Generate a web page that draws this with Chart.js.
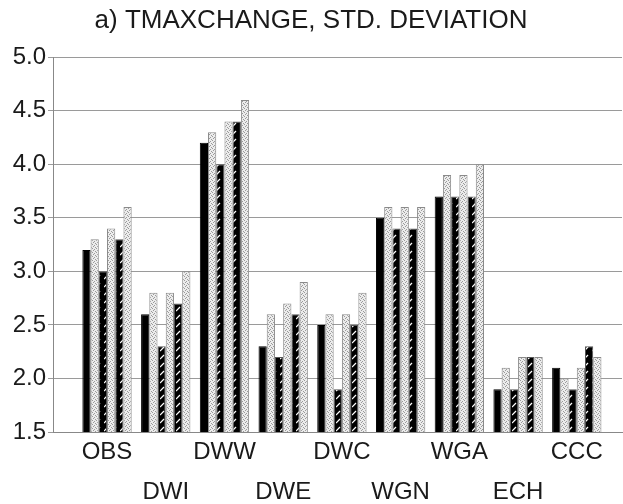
<!DOCTYPE html>
<html>
<head>
<meta charset="utf-8">
<script src="https://cdn.jsdelivr.net/npm/chart.js@4.4.0/dist/chart.umd.min.js"></script>
<style>
html, body { margin: 0; padding: 0; background: #fff; }
#wrap { position: relative; width: 623px; height: 504px; }
</style>
</head>
<body>
<div id="wrap"><canvas id="tmaxChart"></canvas></div>
<script>
// values, one array per bar in each group
const categories = ['OBS', 'DWI', 'DWW', 'DWE', 'DWC', 'WGN', 'WGA', 'ECH', 'CCC'];
const bar1 = [3.2, 2.6, 4.2, 2.3, 2.5, 3.5, 3.7, 1.9, 2.1];
const bar2 = [3.3, 2.8, 4.3, 2.6, 2.6, 3.6, 3.9, 2.1, 2.0];
const bar3 = [3.0, 2.3, 4.0, 2.2, 1.9, 3.4, 3.7, 1.9, 1.9];
const bar4 = [3.4, 2.8, 4.4, 2.7, 2.6, 3.6, 3.9, 2.2, 2.1];
const bar5 = [3.3, 2.7, 4.4, 2.6, 2.5, 3.4, 3.7, 2.2, 2.3];
const bar6 = [3.6, 3.0, 4.6, 2.9, 2.8, 3.6, 4.0, 2.2, 2.2];
const yTicks = [1.5, 2.0, 2.5, 3.0, 3.5, 4.0, 4.5, 5.0];

document.addEventListener('DOMContentLoaded', function() {
const canvas = document.getElementById('tmaxChart');
const ctx = canvas.getContext('2d');

// stippled grey fill
function makeStipple() {
    const c = document.createElement('canvas');
    c.width = 4; c.height = 4;
    const g = c.getContext('2d');
    g.fillStyle = '#ececec';
    g.fillRect(0, 0, 4, 4);
    g.fillStyle = '#9a9a9a';
    g.fillRect(0, 0, 1, 1);
    g.fillRect(2, 1, 1, 1);
    g.fillRect(1, 2, 1, 1);
    g.fillRect(3, 3, 1, 1);
    return ctx.createPattern(c, 'repeat');
}

// black fill with white diagonal strokes
function makeHatch() {
    const c = document.createElement('canvas');
    c.width = 8; c.height = 8;
    const g = c.getContext('2d');
    g.fillStyle = '#000';
    g.fillRect(0, 0, 8, 8);
    g.strokeStyle = '#fff';
    g.lineWidth = 1.2;
    g.beginPath();
    g.moveTo(0, 7); g.lineTo(4, 3);
    g.stroke();
    return ctx.createPattern(c, 'repeat');
}

const stipple = makeStipple();
const hatch = makeHatch();

const allBars = [bar1, bar2, bar3, bar4, bar5, bar6];
const fills = ['#000', stipple, hatch, stipple, hatch, stipple];
const edges = ['#000', '#8a8a8a', '#555', '#8a8a8a', '#555', '#8a8a8a'];

const datasets = allBars.map(function(vals, k) {
    return {
        label: 'bar ' + (k + 1),
        data: vals.map(function(v, i) { return {x: i, y: v}; }),
        backgroundColor: fills[k],
        borderColor: edges[k],
        borderWidth: 1,
        categoryPercentage: 0.84,
        barPercentage: 1.0
    };
});

new Chart(ctx, {
    type: 'bar',
    data: { datasets: datasets },
    options: {
        responsive: true,
        maintainAspectRatio: false,
        animation: false,
        layout: { padding: { left: 0, right: 1, top: 0, bottom: 0 } },
        scales: {
            x: {
                type: 'linear',
                offset: false,
                min: -0.92,
                max: 8.77,
                afterBuildTicks: function(scale) {
                    scale.ticks = categories.map(function(c, i) { return {value: i}; });
                },
                afterFit: function(scale) { scale.height = 72; },
                grid: { display: false, drawTicks: false, offset: false },
                border: { display: true, color: '#888', width: 1 },
                ticks: {
                    padding: 0,
                    maxRotation: 0,
                    autoSkip: false,
                    color: '#1a1a1a',
                    font: { family: 'Liberation Sans, Arial, sans-serif', size: 24, lineHeight: 1.667 },
                    callback: function(value) {
                        const name = categories[value];
                        if (name === undefined) return '';
                        return value % 2 === 0 ? [name, ''] : ['', name];
                    }
                }
            },
            y: {
                min: 1.5,
                max: 5.0,
                afterBuildTicks: function(scale) {
                    scale.ticks = yTicks.map(function(v) { return {value: v}; });
                },
                afterFit: function(scale) { scale.width = 53; },
                grid: { color: '#9a9a9a', lineWidth: 1, tickLength: 5 },
                border: { display: true, color: '#888', width: 1 },
                ticks: {
                    padding: 2,
                    color: '#1a1a1a',
                    font: { family: 'Liberation Sans, Arial, sans-serif', size: 24 },
                    callback: function(value) { return value.toFixed(1); }
                }
            }
        },
        plugins: {
            legend: { display: false },
            tooltip: { enabled: false },
            title: {
                display: true,
                text: 'a) TMAXCHANGE, STD. DEVIATION',
                color: '#1a1a1a',
                font: { family: 'Liberation Sans, Arial, sans-serif', size: 26, weight: 'normal' },
                padding: { top: 5, bottom: 21 }
            }
        }
    }
});

});
</script>
</body>
</html>
